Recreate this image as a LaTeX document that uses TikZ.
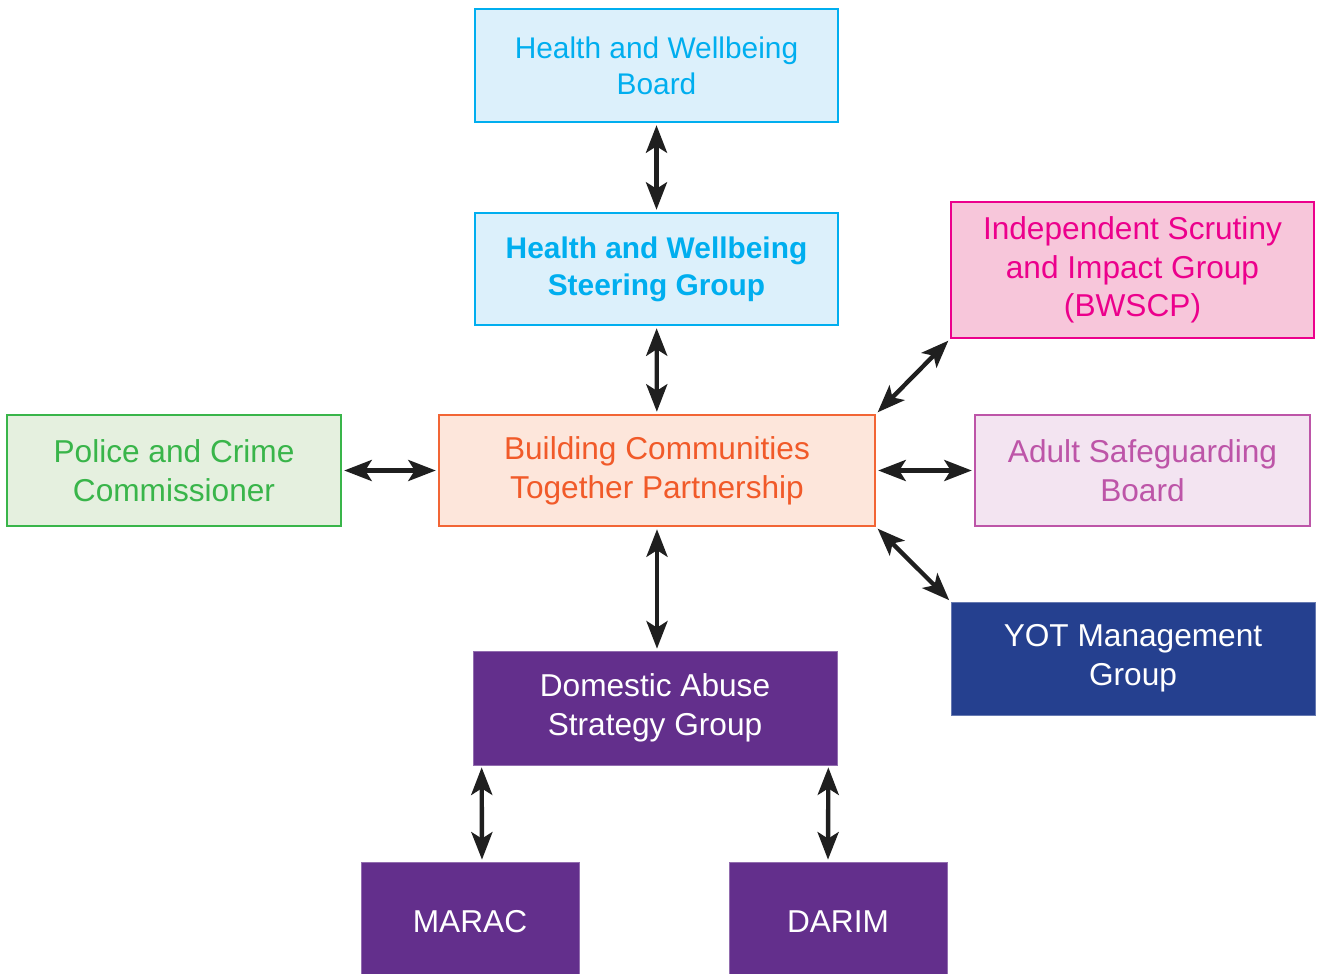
\documentclass[tikz,border=0pt]{standalone}
\usepackage{fontspec}
\setmainfont{Liberation Sans}
\usepackage{tikz}
\usetikzlibrary{positioning, arrows.meta}
\definecolor{BoardCyan}{RGB}{0, 174, 239}
\definecolor{BoardFill}{RGB}{220, 240, 251}
\definecolor{ScrutinyPink}{RGB}{236, 0, 140}
\definecolor{ScrutinyFill}{RGB}{247, 198, 218}
\definecolor{PoliceGreen}{RGB}{57, 181, 74}
\definecolor{PoliceFill}{RGB}{229, 240, 223}
\definecolor{PartnerOrange}{RGB}{242, 101, 53}
\definecolor{PartnerText}{RGB}{241, 90, 41}
\definecolor{PartnerFill}{RGB}{253, 230, 219}
\definecolor{AdultMauve}{RGB}{189, 85, 168}
\definecolor{AdultFill}{RGB}{243, 228, 241}
\definecolor{YotBlue}{RGB}{37, 64, 143}
\definecolor{AbusePurple}{RGB}{99, 47, 140}

\begin{document}
\begin{tikzpicture}[
      panel/.style={rectangle, line width=1.4pt, align=center, inner sep=0pt,
      font=\fontsize{18}{22}\selectfont},
      cyanbox/.style={panel, draw=BoardCyan, fill=BoardFill, text=BoardCyan},
      darkbox/.style={panel, line width=0.4pt, text=white},
      link/.style={{Stealth[length=0.55cm, width=0.42cm, inset=0.13cm]}-{Stealth[length=0.55cm, width=0.42cm, inset=0.13cm]},
      line width=2.5pt, draw=black!88, shorten <=0.04cm, shorten >=0.04cm}
    ]
      \useasboundingbox (0,0) rectangle (26.34,-19.48);

      \node[cyanbox, minimum width=7.26cm, minimum height=2.26cm, font=\fontsize{17}{20.5}\selectfont] (hwb) at (13.13,-1.31) {Health and Wellbeing\\Board};
      \node[cyanbox, minimum width=7.26cm, minimum height=2.24cm, font=\fontsize{17}{21}\selectfont\bfseries] (hwsg) at (13.13,-5.38) {Health and Wellbeing\\Steering Group};
      \node[panel, draw=ScrutinyPink, fill=ScrutinyFill, text=ScrutinyPink, minimum width=7.26cm, minimum height=2.72cm] (isig) at (22.65,-5.40) {Independent Scrutiny\\and Impact Group\\(BWSCP)};
      \node[panel, draw=PoliceGreen, fill=PoliceFill, text=PoliceGreen, minimum width=6.68cm, minimum height=2.22cm] (pcc) at (3.48,-9.41) {Police and Crime\\Commissioner};
      \node[panel, draw=PartnerOrange, fill=PartnerFill, text=PartnerText, minimum width=8.72cm, minimum height=2.22cm] (bctp) at (13.14,-9.41) {Building Communities\\Together Partnership};
      \node[panel, draw=AdultMauve, fill=AdultFill, text=AdultMauve, minimum width=6.70cm, minimum height=2.22cm] (asb) at (22.85,-9.41) {Adult Safeguarding\\Board};
      \node[darkbox, draw=YotBlue!70!white, fill=YotBlue, minimum width=7.28cm, minimum height=2.26cm] (yot) at (22.66,-13.17) {YOT Management\\Group};
      \node[darkbox, draw=AbusePurple!70!white, fill=AbusePurple, minimum width=7.28cm, minimum height=2.28cm] (dasg) at (13.10,-14.16) {Domestic Abuse\\Strategy Group};
      \node[darkbox, draw=AbusePurple!70!white, fill=AbusePurple, minimum width=4.36cm, minimum height=2.4cm] (marac) at (9.40,-18.44) {MARAC};
      \node[darkbox, draw=AbusePurple!70!white, fill=AbusePurple, minimum width=4.36cm, minimum height=2.4cm] (darim) at (16.76,-18.44) {DARIM};

      \draw[link] (hwb) -- (hwsg);
      \draw[link] (hwsg) -- (bctp);
      \draw[link] (pcc) -- (bctp);
      \draw[link] (bctp) -- (asb);
      \draw[link] (bctp.north east) -- (isig.south west);
      \draw[link] (bctp.south east) -- (yot.north west);
      \draw[link] (bctp.south) -- (bctp.south |- dasg.north);
      \draw[link] ([xshift=0.18cm]dasg.south west) -- ([xshift=0.24cm]marac.north);
      \draw[link] ([xshift=-0.18cm]dasg.south east) -- ([xshift=-0.2cm]darim.north);
    \end{tikzpicture}
\end{document}
